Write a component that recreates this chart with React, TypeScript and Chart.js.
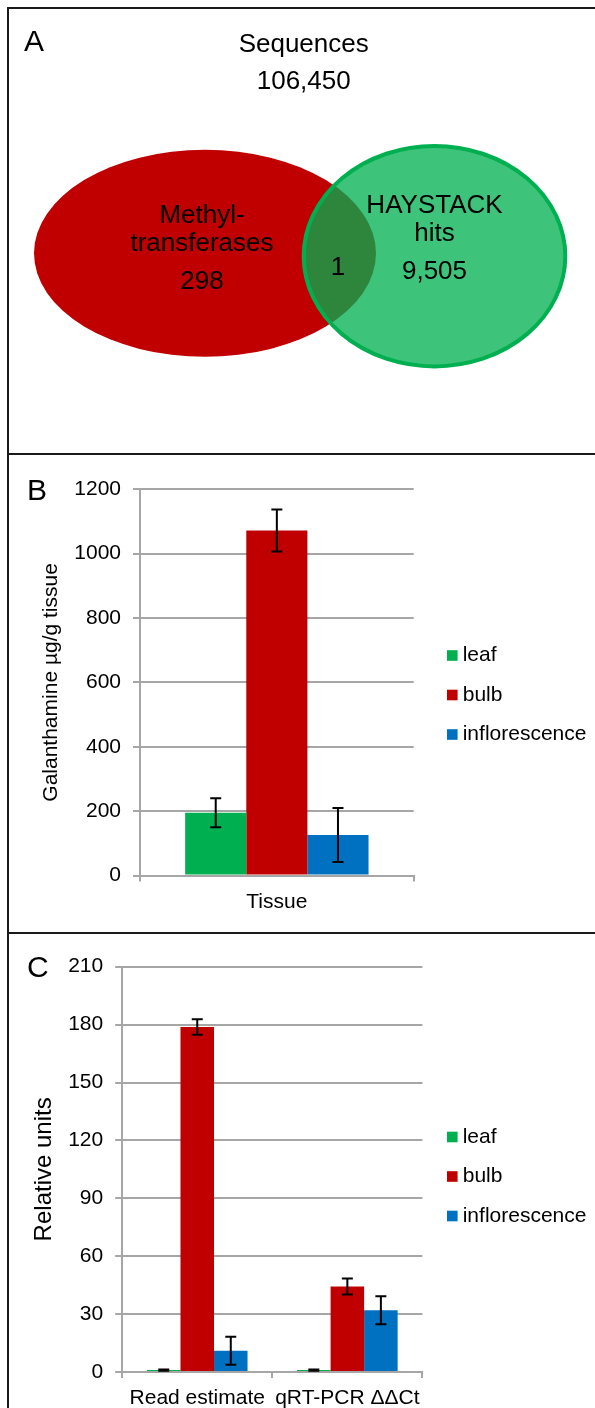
import React, { useEffect, useRef } from "react";
import { Chart, registerables } from "chart.js";

Chart.register(...registerables);

const FONT = "'Liberation Sans', Arial, Helvetica, sans-serif";
Chart.defaults.font.family = FONT;
Chart.defaults.color = "#000";

// ---------- Panel A: Venn diagram data ----------
const vennUniverseLabel = "Sequences";
const vennUniverseCount = 106450;
const vennSetLabels = [["Methyl-", "transferases"], ["HAYSTACK", "hits"]];
const vennSetCounts = [298, 9505];
const vennOverlapCount = 1;

// ---------- Panel B: galanthamine content ----------
const tissueCategories = ["Tissue"];
const seriesLabels = ["leaf", "bulb", "inflorescence"];
const galanthamineMeans = [195, 1072, 126];
const galanthamineErrors = [45, 65, 84];
const galanthamineTicks = [0, 200, 400, 600, 800, 1000, 1200];

// ---------- Panel C: relative expression ----------
const expressionCategories = ["Read estimate", "qRT-PCR ΔΔCt"];
const leafRelative = [1, 1];
const bulbRelative = [178.8, 44.3];
const inflorescenceRelative = [11, 32];
const leafRelativeErr = [0.3, 0.3];
const bulbRelativeErr = [4, 4.1];
const inflorescenceRelativeErr = [7.3, 7.3];
const relativeTicks = [0, 30, 60, 90, 120, 150, 180, 210];

// ---------- styles / layout ----------
const SERIES_COLORS = ["#00B050", "#C00000", "#0070C0"];
const GRID = "#a6a6a6";
const BORDER = "#1a1a1a";

// Venn layout in diagram units (same extent as the panel)
const VENN_W = 595;
const VENN_H = 455;
const vennLayout = {
  universe: { x: 303.7, lines: [51.7, 89.3] },
  sets: [
    { cx: 205, cy: 253.3, rx: 171, ry: 103.5, tx: 202, lines: [223.3, 250.7, 289.3], fill: "#C00000", stroke: null as string | null },
    { cx: 434.5, cy: 256.2, rx: 130.8, ry: 110.2, tx: 434.5, lines: [213.3, 240.7, 279.3], fill: "rgba(0,176,80,0.76)", stroke: "#00B050" as string | null },
  ],
  overlap: { x: 338, y: 275 },
};

const fmt = (n: number) => n.toLocaleString("en-US");

const vennPlugin = {
  id: "venn",
  afterDatasetsDraw(chart: any) {
    const { ctx, scales } = chart;
    const xs = scales.x;
    const ys = scales.y;
    const px = (v: number) => xs.getPixelForValue(v);
    const py = (v: number) => ys.getPixelForValue(v);
    ctx.save();
    vennLayout.sets.forEach((s) => {
      const cx = px(s.cx);
      const cy = py(s.cy);
      const rx = Math.abs(px(s.cx + s.rx) - cx);
      const ry = Math.abs(py(s.cy + s.ry) - cy);
      ctx.beginPath();
      ctx.ellipse(cx, cy, rx, ry, 0, 0, Math.PI * 2);
      ctx.fillStyle = s.fill;
      ctx.fill();
      if (s.stroke) {
        ctx.lineWidth = 4;
        ctx.strokeStyle = s.stroke;
        ctx.stroke();
      }
    });
    ctx.fillStyle = "#000";
    ctx.textAlign = "center";
    ctx.textBaseline = "alphabetic";
    ctx.font = `26px ${FONT}`;
    const u = vennLayout.universe;
    ctx.fillText(vennUniverseLabel, px(u.x), py(u.lines[0]));
    ctx.fillText(fmt(vennUniverseCount), px(u.x), py(u.lines[1]));
    vennLayout.sets.forEach((s, i) => {
      const lines = [...vennSetLabels[i], fmt(vennSetCounts[i])];
      lines.forEach((t, k) => ctx.fillText(t, px(s.tx), py(s.lines[k])));
    });
    ctx.fillText(fmt(vennOverlapCount), px(vennLayout.overlap.x), py(vennLayout.overlap.y));
    ctx.restore();
  },
};

const errorBarPlugin = {
  id: "errorBars",
  afterDatasetsDraw(chart: any) {
    const { ctx } = chart;
    const ys = chart.scales.y;
    ctx.save();
    ctx.strokeStyle = "#000";
    ctx.lineWidth = 2;
    chart.data.datasets.forEach((ds: any, di: number) => {
      const meta = chart.getDatasetMeta(di);
      meta.data.forEach((bar: any, i: number) => {
        const v = ds.data[i];
        const e = ds.errors[i];
        const x = bar.x;
        const yt = ys.getPixelForValue(v + e);
        const yb = ys.getPixelForValue(v - e);
        const cap = 5.5;
        ctx.beginPath();
        ctx.moveTo(x, yt);
        ctx.lineTo(x, yb);
        ctx.moveTo(x - cap, yt);
        ctx.lineTo(x + cap, yt);
        ctx.moveTo(x - cap, yb);
        ctx.lineTo(x + cap, yb);
        ctx.stroke();
      });
    });
    ctx.restore();
  },
};

const sideLegendPlugin = {
  id: "sideLegend",
  afterDraw(chart: any, _args: any, opts: any) {
    const { ctx } = chart;
    const dss = chart.data.datasets;
    const n = dss.length;
    const cy = chart.height / 2;
    ctx.save();
    ctx.font = `21px ${FONT}`;
    ctx.textBaseline = "middle";
    ctx.textAlign = "left";
    dss.forEach((ds: any, i: number) => {
      const y = cy + (i - (n - 1) / 2) * opts.spacing;
      ctx.fillStyle = ds.backgroundColor;
      ctx.fillRect(opts.x, y - opts.box / 2, opts.box, opts.box);
      ctx.fillStyle = "#000";
      ctx.fillText(ds.label, opts.x + opts.box + opts.gap, y);
    });
    ctx.restore();
  },
};

function barOptions(cfg: {
  yWidth: number;
  xHeight: number;
  padTop: number;
  padRight: number;
  ticks: number[];
  title: string;
  titleSize: number;
  titlePad: number;
}) {
  return {
    responsive: false,
    animation: false as const,
    layout: { padding: { left: 0, right: cfg.padRight, top: cfg.padTop, bottom: 0 } },
    datasets: { bar: { categoryPercentage: 0.67, barPercentage: 1 } },
    plugins: {
      legend: { display: false },
      tooltip: { enabled: false },
      sideLegend: { x: 447, box: 10.6, gap: 5.1, spacing: 39.5 },
    },
    scales: {
      x: {
        grid: { offset: true, drawOnChartArea: false, drawTicks: true, tickLength: 6, color: GRID, lineWidth: 2 },
        border: { display: true, color: GRID, width: 2 },
        ticks: { font: { size: 21 }, color: "#000", padding: 8, maxRotation: 0, autoSkip: false },
        afterFit: (s: any) => {
          s.height = cfg.xHeight;
        },
      },
      y: {
        min: cfg.ticks[0],
        max: cfg.ticks[cfg.ticks.length - 1],
        afterBuildTicks: (s: any) => {
          s.ticks = cfg.ticks.map((v) => ({ value: v }));
        },
        grid: { color: GRID, lineWidth: 2, drawTicks: true, tickLength: 7 },
        border: { display: true, color: GRID, width: 2 },
        ticks: {
          font: { size: 21 },
          color: "#000",
          padding: 12,
          callback: (v: any) => String(v),
        },
        title: {
          display: true,
          text: cfg.title,
          font: { size: cfg.titleSize },
          color: "#000",
          padding: { top: cfg.titlePad, bottom: 0 },
        },
        afterFit: (s: any) => {
          s.width = cfg.yWidth;
        },
      },
    },
  };
}

export default function App() {
  const refA = useRef<HTMLCanvasElement>(null);
  const refB = useRef<HTMLCanvasElement>(null);
  const refC = useRef<HTMLCanvasElement>(null);

  useEffect(() => {
    const charts: Chart[] = [];

    charts.push(
      new Chart(refA.current!, {
        type: "scatter",
        data: { datasets: [{ data: [] }] },
        options: {
          responsive: false,
          animation: false,
          layout: { padding: 0 },
          plugins: { legend: { display: false }, tooltip: { enabled: false } },
          scales: {
            x: { type: "linear", min: 0, max: VENN_W, display: false },
            y: { type: "linear", min: 0, max: VENN_H, reverse: true, display: false },
          },
        },
        plugins: [vennPlugin],
      } as any)
    );

    charts.push(
      new Chart(refB.current!, {
        type: "bar",
        data: {
          labels: tissueCategories,
          datasets: seriesLabels.map((label, k) => ({
            label,
            data: [galanthamineMeans[k]],
            errors: [galanthamineErrors[k]],
            backgroundColor: SERIES_COLORS[k],
            borderWidth: 0,
          })),
        },
        options: barOptions({
          yWidth: 140,
          xHeight: 58.5,
          padTop: 33.3,
          padRight: 595 - 413.7,
          ticks: galanthamineTicks,
          title: "Galanthamine µg/g tissue",
          titleSize: 21,
          titlePad: 39,
        }),
        plugins: [errorBarPlugin, sideLegendPlugin],
      } as any)
    );

    const relSeries = [leafRelative, bulbRelative, inflorescenceRelative];
    const relErrs = [leafRelativeErr, bulbRelativeErr, inflorescenceRelativeErr];
    charts.push(
      new Chart(refC.current!, {
        type: "bar",
        data: {
          labels: expressionCategories,
          datasets: seriesLabels.map((label, k) => ({
            label,
            data: relSeries[k],
            errors: relErrs[k],
            backgroundColor: SERIES_COLORS[k],
            borderWidth: 0,
          })),
        },
        options: barOptions({
          yWidth: 122.2,
          xHeight: 46,
          padTop: 31.7,
          padRight: 595 - 422.4,
          ticks: relativeTicks,
          title: "Relative units",
          titleSize: 24,
          titlePad: 30.3,
        }),
        plugins: [errorBarPlugin, sideLegendPlugin],
      } as any)
    );

    return () => charts.forEach((c) => c.destroy());
  }, []);

  const line = (l: number, t: number, w: number, h: number) => (
    <div style={{ position: "absolute", left: l, top: t, width: w, height: h, background: BORDER }} />
  );
  const letter = (txt: string, l: number, baseline: number) => (
    <div
      style={{
        position: "absolute",
        left: l,
        top: baseline - 25.4,
        fontSize: 30,
        lineHeight: "30px",
        fontFamily: FONT,
        color: "#000",
        whiteSpace: "nowrap",
      }}
    >
      {txt}
    </div>
  );

  return (
    <div
      style={{
        position: "absolute",
        left: 0,
        top: 0,
        width: 595,
        height: 1408,
        overflow: "hidden",
        background: "#fff",
        fontFamily: FONT,
      }}
    >
      <canvas ref={refA} width={595} height={455} style={{ position: "absolute", left: 0, top: 0, width: 595, height: 455 }} />
      <canvas ref={refB} width={595} height={478} style={{ position: "absolute", left: 0, top: 456, width: 595, height: 478 }} />
      <canvas ref={refC} width={595} height={483} style={{ position: "absolute", left: 0, top: 935, width: 595, height: 483 }} />
      {line(7, 7, 2, 1401)}
      {line(7, 7, 588, 2)}
      {line(7, 453, 588, 2)}
      {line(7, 932, 588, 2)}
      {letter("A", 24, 51.7)}
      {letter("B", 27, 500)}
      {letter("C", 27, 977.5)}
    </div>
  );
}
